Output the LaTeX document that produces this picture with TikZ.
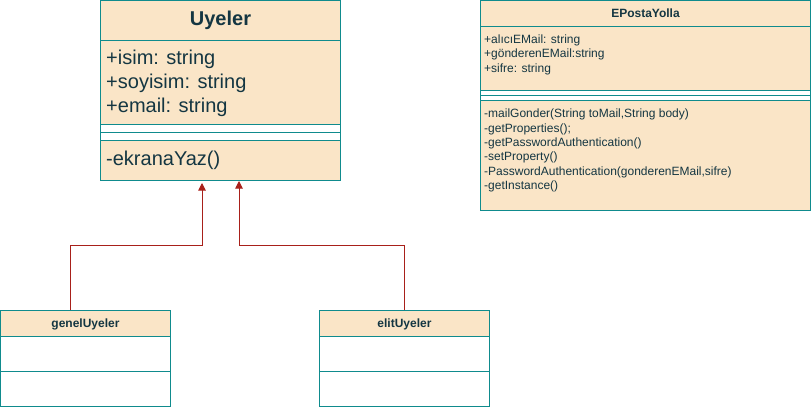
\documentclass[tikz,border=0pt]{standalone}
\usepackage{fontspec}
\setmainfont{Liberation Sans}
\usetikzlibrary{arrows.meta}
\definecolor{ClassFill}{HTML}{FAE5C7}
\definecolor{ClassLine}{HTML}{0F8B8D}
\definecolor{ClassText}{HTML}{143642}
\definecolor{EdgeRed}{HTML}{A8201A}
\newcommand\classbig{\fontsize{20bp}{24bp}\selectfont}
\newcommand\classsmall{\fontsize{12bp}{14.3bp}\selectfont}
\tikzstyle{compart} = [rectangle, anchor=north west, inner sep=0pt, draw=ClassLine, fill=ClassFill, line width=1bp]
\tikzstyle{header} = [compart, text height=9bp, text depth=0pt, font=\classsmall\bfseries]
\tikzstyle{band} = [compart, fill=white]
\tikzstyle{members} = [anchor=base west, inner sep=0pt, align=left, font=\classsmall]
\tikzstyle{edge} = [draw=EdgeRed, line width=1bp, -{Triangle[length=7.5bp,width=7.5bp,fill=EdgeRed]}]

\begin{document}
\begin{tikzpicture}[x=1bp, y=-1bp, every node/.style={text=ClassText}]
\useasboundingbox (0.5,0.5) rectangle (811.5,414.5);

% Uyeler
\node (uyeler) [header, font=\classbig\bfseries, minimum width=240bp, minimum height=40bp] at (100.5,0.5) {Uyeler};
\node (uyelerAttr) [compart, minimum width=240bp, minimum height=84bp] at (100.5,40.5) {};
\node (uyelerBandA) [band, minimum width=240bp, minimum height=8bp] at (100.5,124.5) {};
\node (uyelerBandB) [band, minimum width=240bp, minimum height=8bp] at (100.5,132.5) {};
\node (uyelerMeth) [compart, minimum width=240bp, minimum height=40bp] at (100.5,140.5) {};
% base = last line
\node (uyelerAttrText) [members, font=\classbig] at (106.5,112.5) {
    +isim: string\\
    +soyisim: string\\
    +email: string
};
\node (uyelerMethText) [members, font=\classbig] at (106.5,166) {-ekranaYaz()};

% EPostaYolla
\node (eposta) [header, minimum width=330bp, minimum height=25.5bp] at (480.5,0.5) {EPostaYolla};
\node (epostaAttr) [compart, minimum width=330bp, minimum height=64.5bp] at (480.5,26) {};
\node (epostaBandA) [band, minimum width=330bp, minimum height=5bp] at (480.5,90.5) {};
\node (epostaBandB) [band, minimum width=330bp, minimum height=5bp] at (480.5,95.5) {};
\node (epostaMeth) [compart, minimum width=330bp, minimum height=110bp] at (480.5,100.5) {};
\node (epostaAttrText) [members] at (484.5,72.6) {
    +alıcıEMail: string\\
    +gönderenEMail:string\\
    +sifre: string
};
\node (epostaMethText) [members] at (484.5,189.8) {
    -mailGonder(String toMail,String body)\\
    -getProperties();\\
    -getPasswordAuthentication()\\
    -setProperty()\\
    -PasswordAuthentication(gonderenEMail,sifre)\\
    -getInstance()
};

% Alt siniflar
\node (genel) [header, minimum width=170bp, minimum height=25.5bp] at (0.5,310.5) {genelUyeler};
\node (genelAttr) [band, minimum width=170bp, minimum height=35bp] at (0.5,336) {};
\node (genelMeth) [band, minimum width=170bp, minimum height=35bp] at (0.5,371) {};

\node (elit) [header, minimum width=170bp, minimum height=25.5bp] at (319.5,310.5) {elitUyeler};
\node (elitAttr) [band, minimum width=170bp, minimum height=35bp] at (319.5,336) {};
\node (elitMeth) [band, minimum width=170bp, minimum height=35bp] at (319.5,371) {};

% Kalitim
\draw [edge] ([xshift=-15bp]genel.north) -- ++(0,-65) -| ([xshift=-18.5bp,yshift=-2bp]uyelerMeth.south);
\draw [edge] (elit.north) -- ++(0,-65) -| ([xshift=18.5bp]uyelerMeth.south);

\end{tikzpicture}
\end{document}
